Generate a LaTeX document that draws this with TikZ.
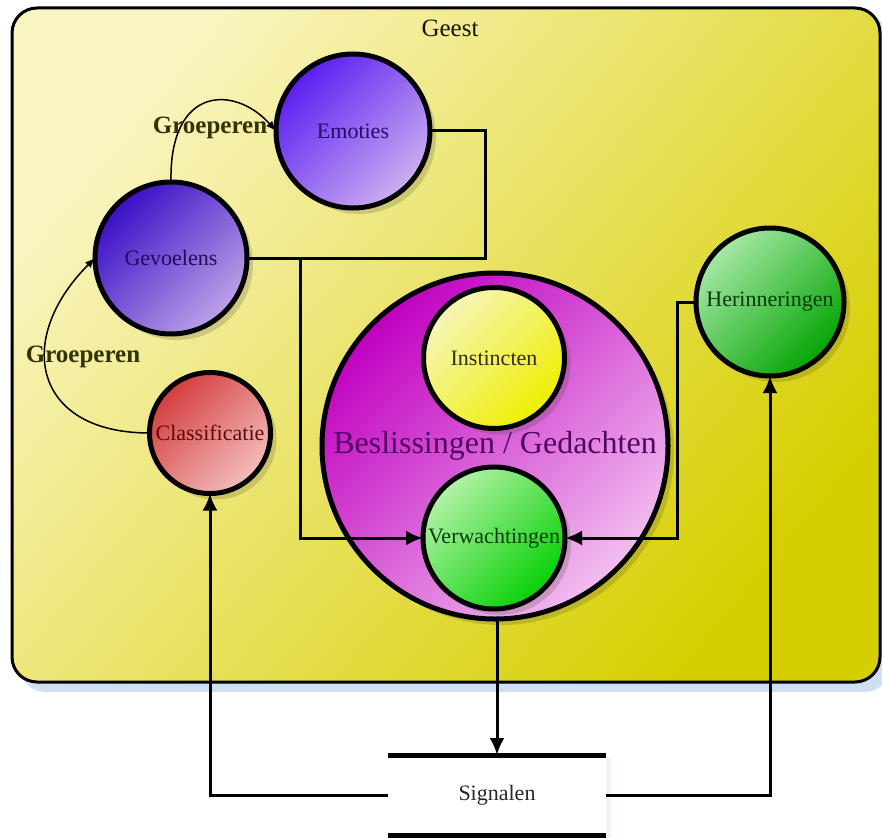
\documentclass[tikz,border=0pt]{standalone}
\usepackage{fontspec}
\setmainfont{Liberation Serif}
\usetikzlibrary{arrows.meta,shadows}
\definecolor{geestpale}{HTML}{FAF4C0}
\definecolor{geestmid}{HTML}{E0D830}
\definecolor{geestdark}{HTML}{D6CF00}
\definecolor{shadowblue}{HTML}{CFE0F2}
\definecolor{emodark}{HTML}{5A1EF0}
\definecolor{emolight}{HTML}{CDB0F2}
\definecolor{gevdark}{HTML}{3A0EC6}
\definecolor{gevlight}{HTML}{BEA2E8}
\definecolor{cladark}{HTML}{D43E3E}
\definecolor{clalight}{HTML}{F4BEBE}
\definecolor{besdark}{HTML}{C000C0}
\definecolor{beslight}{HTML}{F2BEF0}
\definecolor{inslight}{HTML}{F6F6B8}
\definecolor{insdark}{HTML}{EEEE00}
\definecolor{verlight}{HTML}{B4F2A8}
\definecolor{verdark}{HTML}{06D006}
\definecolor{herlight}{HTML}{A6E8A6}
\definecolor{herdark}{HTML}{04A404}
\definecolor{emotext}{HTML}{240A70}
\definecolor{gevtext}{HTML}{1E0C5A}
\definecolor{clatext}{HTML}{5A0A0A}
\definecolor{bestext}{HTML}{500560}
\definecolor{instext}{HTML}{303000}
\definecolor{greentext}{HTML}{063A06}
\definecolor{groeptext}{HTML}{323204}
\definecolor{geesttext}{HTML}{141400}
\definecolor{sigtext}{HTML}{282828}
\begin{document}
\begin{tikzpicture}[x=1pt,y=-1pt,
  bubble/.style={circle, draw=black, line width=5pt, inner sep=0pt, outer sep=0pt,
    font=\fontsize{22}{24}\selectfont,
    drop shadow={shadow xshift=6pt, shadow yshift=-6pt, opacity=0.2, fill=black!70!olive}},
  darklight/.style 2 args={top color=#1, bottom color=#2, shading angle=45},
  conn/.style={line width=3pt, draw=black},
  tip/.style={-{Latex[length=17pt,width=15pt]}},
  grp/.style={line width=1.5pt, draw=black, -{Latex[length=10pt,width=8pt]}},
  grplabel/.style={font=\bfseries\fontsize{25}{27}\selectfont, text=groeptext},
]
\useasboundingbox (0,0) rectangle (882,837);
% Geest container
\fill[shadowblue, rounded corners=25] (20,16) rectangle (890,692);
\draw[line width=3pt, rounded corners=25,
  top color=geestpale, middle color=geestmid, bottom color=geestdark, shading angle=50]
  (12,8) rectangle (880,682);
\node[font=\fontsize{25}{27}\selectfont, text=geesttext] (geest) at (450,28) {Geest};

% circles
\node[bubble, minimum size=154pt, darklight={emodark}{emolight}, text=emotext] (emo) at (353,131) {Emoties};
\node[bubble, minimum size=152pt, darklight={gevdark}{gevlight}, text=gevtext] (gev) at (171,258) {Gevoelens};
\node[bubble, minimum size=121pt, darklight={cladark}{clalight}, text=clatext] (cla) at (210,433) {Classificatie};
\node[bubble, minimum size=346pt, darklight={besdark}{beslight}, text=bestext,
  font=\fontsize{32}{34}\selectfont] (bes) at (495,446) {Beslissingen / Gedachten};
\node[bubble, minimum size=141pt, darklight={inslight}{insdark}, text=instext] (ins) at (494,358) {Instincten};
\node[bubble, minimum size=142pt, darklight={verlight}{verdark}, text=greentext] (ver) at (494,538) {Verwachtingen};
\node[bubble, minimum size=148pt, darklight={herlight}{herdark}, text=greentext] (her) at (770,302) {Herinneringen};

% Signalen store
\node[minimum width=218pt, minimum height=80pt, inner sep=0pt, outer sep=0pt,
  fill=white, font=\fontsize{22}{24}\selectfont, text=sigtext,
  drop shadow={shadow xshift=5pt, shadow yshift=-3pt, opacity=0.35, fill=shadowblue}] (sig) at (497,795) {Signalen};
\draw[line width=5pt] (sig.north west) -- (sig.north east);
\draw[line width=5pt] (sig.south west) -- (sig.south east);

% connectors
\coordinate (j1) at (300,258);
\draw[conn] (emo.east) -- ++(55,0) |- (gev.east);
\draw[conn, tip] (j1) |- (ver.west);
\draw[conn, tip] (her.west) -- ++(-19,0) |- (ver.east);
\draw[conn, tip] (bes.south -| sig.north) -- (sig.north);
\draw[conn, tip] (sig.west) -| (cla.south);
\draw[conn, tip] (sig.east) -| (her.south);

% Groeperen arcs
\draw[grp] (cla.west) .. controls (33,433) and (14,339) .. (gev.west);
\draw[grp] (gev.north) .. controls (169,85) and (235,85) .. (emo.west);
\node[grplabel] (g1) at (83,357) {Groeperen};
\node[grplabel] (g2) at (210,128) {Groeperen};
\end{tikzpicture}
\end{document}
